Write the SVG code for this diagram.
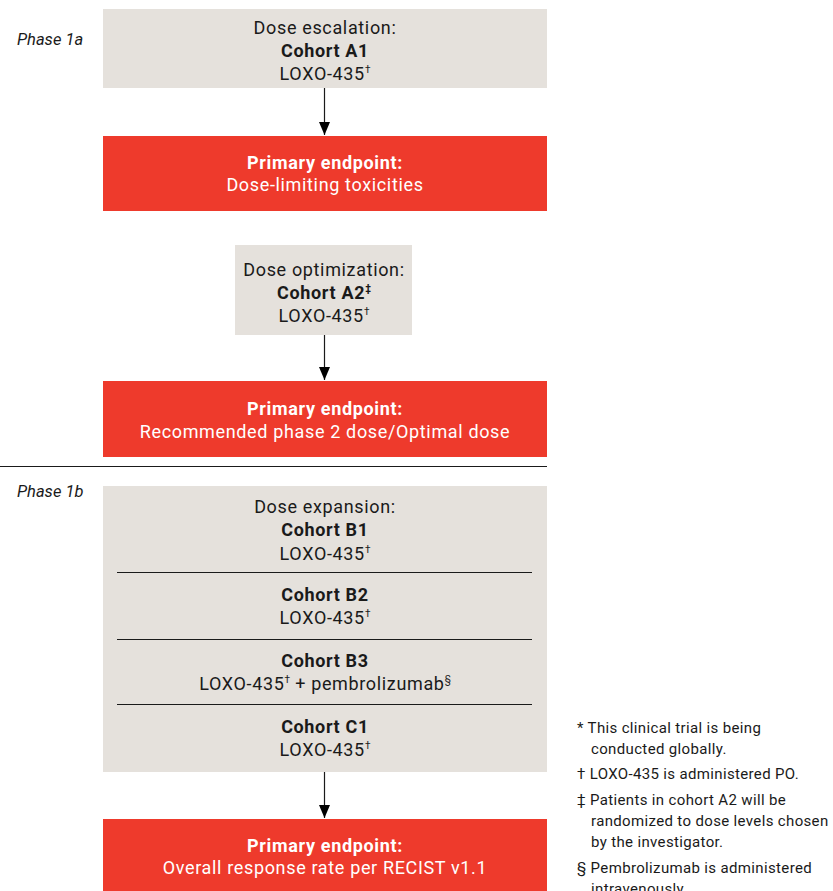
<svg xmlns="http://www.w3.org/2000/svg" width="833" height="891" viewBox="0 0 833 891">
<style>
.t{font-family:Roboto,"Liberation Sans",sans-serif;font-size:18px;letter-spacing:0.65px;fill:#1a1a1a;text-anchor:middle}
.b{font-weight:bold}
.w{fill:#ffffff}
.grey{fill:#e5e1dc}
.red{fill:#ee3a2c}
.ph{font-family:Roboto,"Liberation Sans",sans-serif;font-size:16.5px;font-style:italic;fill:#1a1a1a}
.fn{font-family:Roboto,"Liberation Sans",sans-serif;font-size:15px;letter-spacing:0.35px;fill:#1a1a1a}
.sup{font-size:10px;letter-spacing:0}
.div{stroke:#1a1a1a;stroke-width:1}
.con{stroke:#1a1a1a;stroke-width:1.2;fill:none}
</style>
<defs>
<marker id="ah" markerWidth="13" markerHeight="11" refX="13" refY="5.5" orient="auto" markerUnits="userSpaceOnUse" viewBox="0 0 13 11">
<path d="M0,0 L13,5.5 L0,11 Z" fill="#000"/>
</marker>
</defs>
<rect width="833" height="891" fill="#fff"/>
<text class="ph" x="17" y="45">Phase 1a</text>
<text class="ph" x="17" y="497">Phase 1b</text>
<line x1="0" y1="466.5" x2="547" y2="466.5" class="div"/>

<g id="a1">
<rect class="grey" x="103" y="9" width="444" height="79"/>
<text class="t" x="325" y="34">Dose escalation:</text>
<text class="t b" x="325" y="57">Cohort A1</text>
<text class="t" x="325" y="80">LOXO-435<tspan class="sup" dy="-7">†</tspan></text>
</g>
<g id="ep1">
<rect class="red" x="103" y="136" width="444" height="75"/>
<text class="t b w" x="325" y="169">Primary endpoint:</text>
<text class="t w" x="325" y="191">Dose-limiting toxicities</text>
</g>
<g id="a2">
<rect class="grey" x="235" y="245" width="177" height="90"/>
<text class="t" x="324" y="276">Dose optimization:</text>
<text class="t b" x="324" y="299">Cohort A2<tspan class="sup" dy="-7">‡</tspan></text>
<text class="t" x="324" y="322">LOXO-435<tspan class="sup" dy="-7">†</tspan></text>
</g>
<g id="ep2">
<rect class="red" x="103" y="381" width="444" height="76"/>
<text class="t b w" x="325" y="415">Primary endpoint:</text>
<text class="t w" x="325" y="438">Recommended phase 2 dose/Optimal dose</text>
</g>
<g id="b">
<rect class="grey" x="103" y="486" width="444" height="286"/>
<text class="t" x="325" y="513">Dose expansion:</text>
<text class="t b" x="325" y="536">Cohort B1</text>
<text class="t" x="325" y="560">LOXO-435<tspan class="sup" dy="-7">†</tspan></text>
<line x1="117" y1="572.5" x2="532" y2="572.5" class="div"/>
<text class="t b" x="325" y="601">Cohort B2</text>
<text class="t" x="325" y="624">LOXO-435<tspan class="sup" dy="-7">†</tspan></text>
<line x1="117" y1="639.5" x2="532" y2="639.5" class="div"/>
<text class="t b" x="325" y="667">Cohort B3</text>
<text class="t" x="325" y="690">LOXO-435<tspan class="sup" dy="-7">†</tspan><tspan dy="7"> + pembrolizumab</tspan><tspan class="sup" dy="-7">§</tspan></text>
<line x1="117" y1="704.5" x2="532" y2="704.5" class="div"/>
<text class="t b" x="325" y="733">Cohort C1</text>
<text class="t" x="325" y="756">LOXO-435<tspan class="sup" dy="-7">†</tspan></text>
</g>
<g id="ep3">
<rect class="red" x="103" y="819" width="444" height="75"/>
<text class="t b w" x="325" y="852">Primary endpoint:</text>
<text class="t w" x="325" y="874">Overall response rate per RECIST v1.1</text>
</g>
<g id="connectors">
<line class="con" x1="324.5" y1="88" x2="324.5" y2="135" marker-end="url(#ah)"/>
<line class="con" x1="324.5" y1="335" x2="324.5" y2="380" marker-end="url(#ah)"/>
<line class="con" x1="324.5" y1="772" x2="324.5" y2="818" marker-end="url(#ah)"/>
</g>
<g id="footnotes">
<text class="fn" x="577" y="733">* This clinical trial is being</text>
<text class="fn" x="591" y="754">conducted globally.</text>
<text class="fn" x="577" y="779">† LOXO-435 is administered PO.</text>
<text class="fn" x="577" y="805">‡ Patients in cohort A2 will be</text>
<text class="fn" x="591" y="826">randomized to dose levels chosen</text>
<text class="fn" x="591" y="847">by the investigator.</text>
<text class="fn" x="577" y="873">§ Pembrolizumab is administered</text>
<text class="fn" x="591" y="894">intravenously.</text>
</g>
</svg>
